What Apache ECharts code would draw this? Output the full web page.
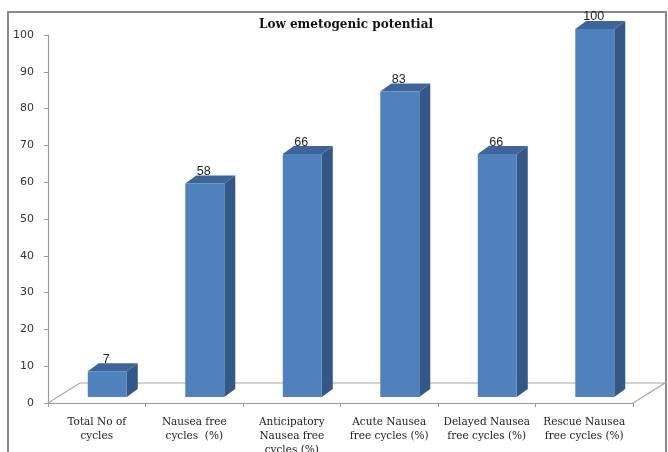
<!DOCTYPE html>
<html>
<head>
<meta charset="utf-8">
<title>Low emetogenic potential</title>
<script src="https://cdn.jsdelivr.net/npm/echarts@6/dist/echarts.min.js"></script>
<style>
  html, body { margin: 0; padding: 0; background: #fff; }
  #chart { width: 668px; height: 452px; }
</style>
</head>
<body>
<div id="chart"></div>
<script>
// Categories and response rates for the low emetogenic potential group
const categories = [
  'Total No of\ncycles',
  'Nausea free\ncycles  (%)',
  'Anticipatory\nNausea free\ncycles (%)',
  'Acute Nausea\nfree cycles (%)',
  'Delayed Nausea\nfree cycles (%)',
  'Rescue Nausea\nfree cycles (%)'
];
const values = [7, 58, 66, 83, 66, 100];
const yTicks = { min: 0, max: 100, interval: 10 };

// 3D look: depth offset of the bar prisms and of the floor plane
const DEPTH_X = 11, DEPTH_Y = -8, LIFT = 6;
const FLOOR_DX = 32, FLOOR_DY = -20;
const FRONT = '#4f81bd', SIDE = '#335888', TOP = '#3c659b';

const chart = echarts.init(document.getElementById('chart'), null, { renderer: 'canvas' });

function renderFloor(params, api) {
  const band = api.size([1, 0])[0];
  const first = api.coord([0, 0]);
  const last = api.coord([categories.length - 1, 0]);
  const xl = first[0] - band / 2, xr = last[0] + band / 2, y = first[1];
  return {
    type: 'polyline',
    shape: { points: [[xl, y], [xl + FLOOR_DX, y + FLOOR_DY], [xr + FLOOR_DX, y + FLOOR_DY], [xr, y]] },
    style: { stroke: '#a6a6a6', lineWidth: 1.2, fill: null }
  };
}

function renderBar(params, api) {
  const idx = api.value(0), v = api.value(1);
  const top = api.coord([idx, v]);
  const base = api.coord([idx, 0]);
  const band = api.size([1, 0])[0];
  const w = band * 0.4;
  const x0 = top[0] - band * 0.092, x1 = x0 + w;
  const yt = top[1] - LIFT, yb = base[1] - LIFT;
  return {
    type: 'group',
    children: [
      { type: 'polygon', shape: { points: [[x1, yt], [x1 + DEPTH_X, yt + DEPTH_Y], [x1 + DEPTH_X, yb + DEPTH_Y], [x1, yb]] },
        style: { fill: SIDE } },
      { type: 'polygon', shape: { points: [[x0, yt], [x1, yt], [x1 + DEPTH_X, yt + DEPTH_Y], [x0 + DEPTH_X, yt + DEPTH_Y]] },
        style: { fill: TOP } },
      { type: 'rect', shape: { x: x0, y: yt, width: w, height: yb - yt },
        style: { fill: FRONT } },
      { type: 'text', style: { text: String(v), x: x0 + w / 2 - 1, y: yt - 12, align: 'center', verticalAlign: 'middle',
          font: '12.5px "Liberation Sans", sans-serif', fill: '#222' } }
    ]
  };
}

chart.setOption({
  animation: false,
  backgroundColor: '#fff',
  graphic: [
    { type: 'rect', shape: { x: 8, y: 12, width: 658, height: 460 },
      style: { fill: null, stroke: '#8a8a8a', lineWidth: 2 }, z: 0 }
  ],
  title: {
    text: 'Low emetogenic potential',
    left: 341, top: 14, textAlign: 'center',
    textStyle: { fontFamily: 'DejaVu Serif', fontWeight: 'bold', fontSize: 12, color: '#111' }
  },
  grid: { left: 48, right: 35, top: 35, bottom: 49, outerBoundsMode: 'none', containLabel: false },
  xAxis: {
    type: 'category',
    data: categories,
    axisLine: { lineStyle: { color: '#999', width: 1.2 } },
    axisTick: { show: true, length: 4, lineStyle: { color: '#999' } },
    axisLabel: {
      interval: 0, margin: 12, lineHeight: 14,
      fontFamily: 'DejaVu Serif', fontSize: 10.5, color: '#222'
    }
  },
  yAxis: {
    type: 'value',
    min: yTicks.min, max: yTicks.max, interval: yTicks.interval,
    axisLine: { show: true, lineStyle: { color: '#999', width: 1.2 } },
    axisTick: { show: true, length: 4, lineStyle: { color: '#999' } },
    splitLine: { show: false },
    axisLabel: { margin: 14, fontFamily: 'DejaVu Sans', fontSize: 11, color: '#333' }
  },
  series: [
    { type: 'custom', renderItem: renderFloor, data: [[0, 0]], z: 1, silent: true },
    { type: 'custom', renderItem: renderBar, data: values.map((v, i) => [i, v]), z: 2 }
  ]
});
</script>
</body>
</html>
